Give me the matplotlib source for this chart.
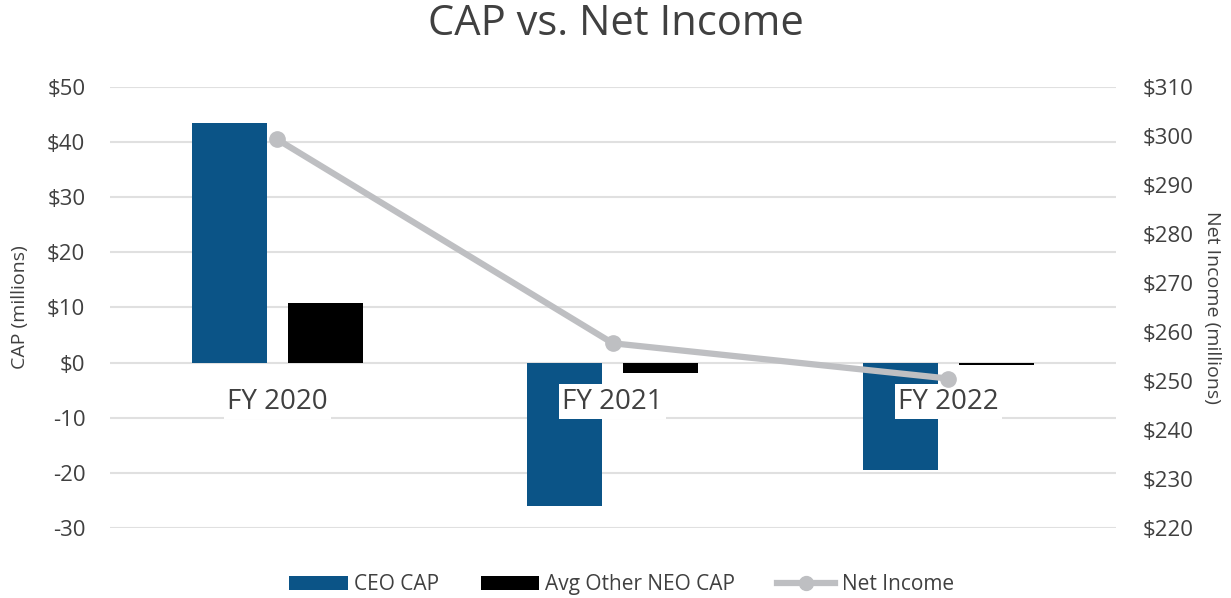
import matplotlib
matplotlib.use("Agg")
import matplotlib.pyplot as plt
from matplotlib.lines import Line2D
from matplotlib.patches import Patch

categories = ["FY 2020", "FY 2021", "FY 2022"]
ceo_cap = [43.5, -26.1, -19.4]
neo_cap = [10.9, -1.8, -0.5]
net_income = [299.3, 257.7, 250.5]
left_ticks = [-30, -20, -10, 0, 10, 20, 30, 40, 50]
right_ticks = [220, 230, 240, 250, 260, 270, 280, 290, 300, 310]

plt.rcParams['font.family'] = ['Open Sans', 'DejaVu Sans']

CEO_C = "#0b5487"
NEO_C = "#000000"
LINE_C = "#bebfc2"
TXT = "#404040"
TICK = "#404040"
GRID = "#e0e0e0"

fig = plt.figure(figsize=(12.31, 5.98), dpi=100)
ax = fig.add_axes([0.089, 0.1171, 0.8176, 0.7374])
ax2 = ax.twinx()

x = list(range(len(categories)))
w = 0.224
off = 0.143
ax.bar([i - off for i in x], ceo_cap, width=w, color=CEO_C, zorder=2)
ax.bar([i + off for i in x], neo_cap, width=w, color=NEO_C, zorder=2)

ax.set_ylim(-30, 50)
ax.set_xlim(-0.5, 2.5)
ax.set_yticks(left_ticks)
ax.set_yticklabels([f"${v}" if v >= 0 else f"-{abs(v)}" for v in left_ticks])
ax.grid(axis='y', color=GRID, linewidth=1.5, zorder=0)
ax.set_axisbelow(True)
ax.set_xticks([])
for s in ax.spines.values():
    s.set_visible(False)
ax.tick_params(axis='y', length=0, labelsize=16, colors=TICK, pad=17.5)
ax.set_ylabel("CAP (millions)", fontsize=14, color=TICK, labelpad=13)

for i, c in enumerate(categories):
    ax.text(i, -7.1, c, ha='center', va='center', fontsize=20, color=TXT, zorder=5,
            bbox=dict(facecolor='white', edgecolor='none', pad=2.5))

ax2.plot(x, net_income, color=LINE_C, linewidth=4.5, marker='o', markersize=11,
         markerfacecolor=LINE_C, markeredgecolor=LINE_C, zorder=6)
ax2.set_ylim(220, 310)
ax2.set_yticks(right_ticks)
ax2.set_yticklabels([f"${v}" for v in right_ticks])
for s in ax2.spines.values():
    s.set_visible(False)
ax2.tick_params(axis='y', length=0, labelsize=16, colors=TICK, pad=19)
ax2.set_ylabel("Net Income (millions)", fontsize=14, color=TICK, rotation=270, labelpad=20)

fig.text(0.5, 0.995, "CAP vs. Net Income", fontsize=30, color=TXT, ha='center', va='top')

handles = [Patch(facecolor=CEO_C, edgecolor='none'),
           Patch(facecolor=NEO_C, edgecolor='none'),
           Line2D([0], [0], color=LINE_C, linewidth=4.5, marker='o', markersize=10)]
fig.legend(handles, ["CEO CAP", "Avg Other NEO CAP", "Net Income"], loc='center',
           ncol=3, frameon=False, fontsize=15, bbox_to_anchor=(0.505, 0.022),
           handlelength=2.8, handleheight=0.67, handletextpad=0.3,
           columnspacing=2.0, labelcolor=TXT, borderpad=0.2)

fig.savefig("out.png", dpi=100)
